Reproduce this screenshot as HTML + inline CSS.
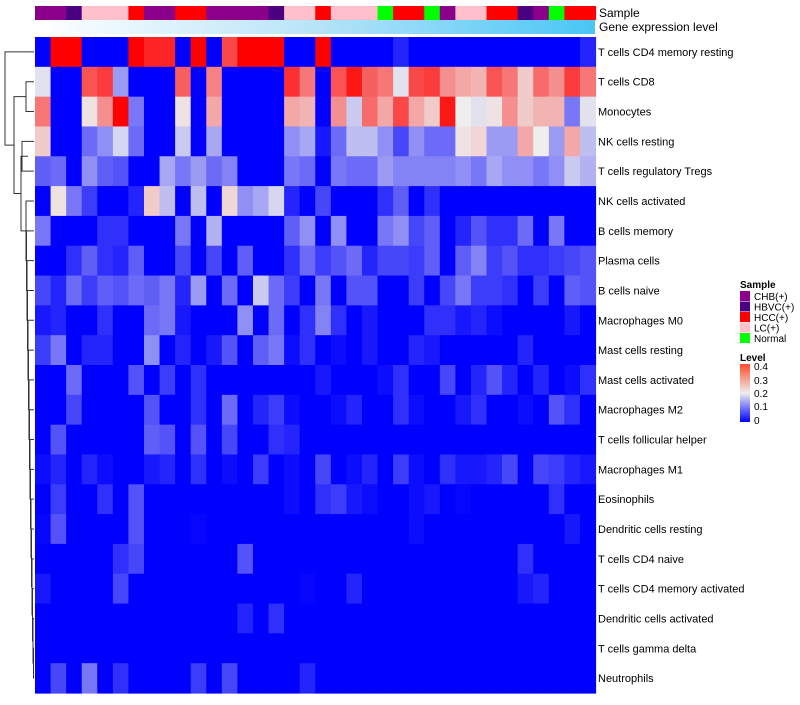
<!DOCTYPE html>
<html><head><meta charset="utf-8"><style>
html,body{margin:0;padding:0;background:#fff;}
svg text{font-family:"Liberation Sans",sans-serif;fill:#000;}
</style></head><body>
<svg id="chart" width="800" height="700" xmlns="http://www.w3.org/2000/svg">
<defs>
<linearGradient id="expr" x1="0" x2="1" y1="0" y2="0"><stop offset="0" stop-color="#ffffff"/><stop offset="0.5" stop-color="#b8e4f8"/><stop offset="1" stop-color="#48c6f6"/></linearGradient>
<linearGradient id="lvl" x1="0" x2="0" y1="1" y2="0"><stop offset="0" stop-color="#0000ff"/><stop offset="0.5" stop-color="#eeeeee"/><stop offset="1" stop-color="#ff4a2a"/></linearGradient>
</defs>
<g id="dendro" stroke="#333" stroke-width="1" fill="none"></g>
<g id="cells"></g>
<g id="ann"></g>
<rect x="35" y="20" width="560" height="14" fill="url(#expr)"/>
<text x="599" y="17" font-size="12">Sample</text>
<text x="599" y="31" font-size="12">Gene expression level</text>
<g id="rowlabels"></g>
<g id="legend">
<text x="740" y="288" font-size="10" font-weight="bold">Sample</text>
<text x="740" y="361" font-size="10" font-weight="bold">Level</text>
<rect x="740" y="364" width="10" height="58" fill="url(#lvl)"/>
<text x="754" y="370" font-size="10">0.4</text>
<text x="754" y="384" font-size="10">0.3</text>
<text x="754" y="397" font-size="10">0.2</text>
<text x="754" y="410" font-size="10">0.1</text>
<text x="754" y="424" font-size="10">0</text>
</g>
</svg>
<script>
const rowNames=["T cells CD4 memory resting","T cells CD8","Monocytes","NK cells resting","T cells regulatory  Tregs","NK cells activated","B cells memory","Plasma cells","B cells naive","Macrophages M0","Mast cells resting","Mast cells activated","Macrophages M2","T cells follicular helper","Macrophages M1","Eosinophils","Dendritic cells resting","T cells CD4 naive","T cells CD4 memory activated","Dendritic cells activated","T cells gamma delta","Neutrophils"];
const sampleGroups=["CHB(+)","CHB(+)","HBVC(+)","LC(+)","LC(+)","LC(+)","HCC(+)","CHB(+)","CHB(+)","HCC(+)","HCC(+)","CHB(+)","CHB(+)","CHB(+)","CHB(+)","HBVC(+)","LC(+)","LC(+)","HCC(+)","LC(+)","LC(+)","LC(+)","Normal","HCC(+)","HCC(+)","Normal","CHB(+)","LC(+)","LC(+)","HCC(+)","HCC(+)","HBVC(+)","CHB(+)","Normal","HCC(+)","HCC(+)"];
const groupNames=["CHB(+)","HBVC(+)","HCC(+)","LC(+)","Normal"];
const groupColors=["#8b008b","#4b0082","#ff0000","#ffc0cb","#00ff00"];
const levelTicks=[0.4,0.3,0.2,0.1,0];
const r0=[0,.4,.4,0,0,0,.4,.37,.37,0,.4,0,.34,.4,.4,.4,0,0,.4,0,0,0,0,.03,0,0,0,0,0,0,0,0,0,0,0,.03];
const r1=[.19,0,0,.33,.35,.13,0,0,0,.32,0,.29,0,0,0,0,.36,.3,0,.33,.38,.32,.3,.19,.34,.35,.28,.26,.25,.33,.3,.23,.31,.28,.35,.3];
const r2=[.3,0,0,.21,.28,.4,.1,0,0,.21,0,.26,0,0,0,0,.26,.25,0,.28,.17,.31,.26,.34,.26,.23,.38,.2,.19,.21,.28,.23,.25,.25,.1,.19];
const r3=[.23,0,0,.09,.12,.18,.09,0,0,.17,0,.14,0,0,0,0,.12,.14,.02,.09,.16,.16,.12,.06,.12,.09,.09,.21,.22,.13,.13,.26,.2,.13,.26,.16];
const r4=[.08,.09,0,.12,.08,.07,0,0,.14,.1,.13,.09,.11,0,0,0,.1,.09,0,.1,.09,.09,.13,.11,.11,.11,.11,.12,.1,.14,.12,.12,.1,.12,.17,.15];
const r5=[0,.21,.1,.05,0,0,.03,.23,.16,0,.16,0,.22,.12,.14,.18,.03,0,.06,0,0,0,.04,.08,0,.04,0,0,0,0,0,0,0,0,0,0];
const r6=[.1,0,0,0,.04,.04,0,0,0,.1,0,.15,0,0,0,0,.08,.12,0,.12,0,0,.1,.12,.06,.08,0,.03,.07,.04,.04,.09,0,.1,0,0];
const r7=[0,0,.04,.08,.04,.03,.08,0,0,.06,0,.06,0,.08,0,0,.04,.09,.05,.07,.09,.03,.06,.06,.05,.08,0,.08,.11,.05,.07,.04,.04,.05,.06,.07];
const r8=[.06,.03,.09,.05,.08,.07,.09,.08,.1,.03,.13,0,.09,0,.17,.09,.05,0,.1,0,.07,.07,0,0,.05,0,.06,.1,.05,.05,.04,0,.05,0,.08,.07];
const r9=[.02,.03,0,0,.04,0,0,.09,.1,.02,0,0,0,.12,0,.09,0,.04,.11,.04,0,.02,0,0,0,.04,.04,.02,.03,.01,0,0,0,0,.02,0];
const r10=[.05,.1,0,.03,.03,0,0,.12,0,.03,0,.02,.07,0,.08,.1,.01,.04,0,.01,0,.02,0,0,.03,.02,0,0,0,0,0,.03,0,0,0,0];
const r11=[0,0,.09,0,0,0,.07,0,.05,0,.04,0,0,0,0,0,0,0,.02,0,0,0,.01,.04,0,0,.06,0,.03,.07,.03,0,.03,0,.01,.04];
const r12=[0,0,.06,0,0,0,0,.07,0,0,.04,0,.09,0,.03,.05,.01,0,0,.01,.03,0,0,.04,.01,0,0,.02,.04,0,0,.01,0,.07,.04,0];
const r13=[0,.07,0,0,0,0,0,.08,.07,0,.07,0,.06,0,0,.04,.03,0,0,0,0,0,0,0,0,0,0,0,0,0,0,0,0,0,0,0];
const r14=[.01,.03,0,.03,.01,0,0,.02,.03,0,.04,0,.01,0,.05,0,.01,0,.06,0,.01,.03,0,.05,.01,0,.04,.02,.02,.03,.06,0,.06,.05,.03,.02];
const r15=[0,.05,0,0,.04,0,.07,0,0,0,0,0,0,0,0,0,.01,0,.04,.05,.02,.01,0,0,.01,.02,0,.005,0,0,0,0,0,.04,0,0];
const r16=[.005,.07,0,0,0,0,.07,0,0,0,.005,0,0,0,0,0,0,0,0,0,0,0,0,0,.01,0,0,0,0,0,0,0,0,0,.02,0];
const r17=[0,0,0,0,0,.04,.06,0,0,0,0,0,0,.07,0,0,0,0,0,0,0,0,0,0,0,0,0,0,0,0,0,.04,0,0,0,0];
const r18=[.02,0,0,0,0,.06,0,0,0,0,0,0,0,0,0,0,0,.005,0,0,.03,0,0,0,0,0,0,0,0,0,0,.02,.03,0,0,0];
const r19=[0,0,0,0,0,0,0,0,0,0,0,0,0,.03,0,.04,0,0,0,0,0,0,0,0,0,0,0,0,0,0,0,0,0,0,0,0];
const r20=[0,0,0,0,0,0,0,0,0,0,0,0,0,0,0,0,0,0,0,0,0,0,0,0,0,0,0,0,0,0,0,0,0,0,0,0];
const r21=[0,.06,0,.1,0,.04,0,0,0,0,.05,0,.06,0,0,0,0,.03,0,0,0,0,0,0,0,0,0,0,0,0,0,0,0,0,0,0];
const values=[r0,r1,r2,r3,r4,r5,r6,r7,r8,r9,r10,r11,r12,r13,r14,r15,r16,r17,r18,r19,r20,r21];

const NS="http://www.w3.org/2000/svg";
const X0=35,X1=595.5,Y0=37,Y1=693;
const nCol=sampleGroups.length,nRow=rowNames.length;
const cw=(X1-X0)/nCol,rh=(Y1-Y0)/nRow;
function xPos(i){return X0+i*cw;}
function yPos(j){return Y0+j*rh;}
function lerp(a,b,t){return Math.round(a+(b-a)*t);}
function color(v){
  v=Math.max(0,Math.min(0.4,v));
  if(v<=0.2){const t=v/0.2;return `rgb(${lerp(0,238,t)},${lerp(0,238,t)},${lerp(255,238,t)})`;}
  const t=(v-0.2)/0.2;return `rgb(${lerp(238,255,t)},${lerp(238,0,t)},${lerp(238,0,t)})`;
}
const cells=document.getElementById('cells');
values.forEach((row,j)=>{row.forEach((v,i)=>{
  const r=document.createElementNS(NS,'rect');
  r.setAttribute('x',xPos(i));r.setAttribute('y',yPos(j));
  r.setAttribute('width',cw+0.6);r.setAttribute('height',rh+0.6);
  r.setAttribute('fill',color(v));
  
  
  cells.appendChild(r);
});});
const ann=document.getElementById('ann');
sampleGroups.forEach((g,i)=>{
  const r=document.createElementNS(NS,'rect');
  r.setAttribute('x',xPos(i));r.setAttribute('y',6);
  r.setAttribute('width',cw+0.6);r.setAttribute('height',14);
  r.setAttribute('fill',groupColors[groupNames.indexOf(g)]);
  
  
  ann.appendChild(r);
});
const rl=document.getElementById('rowlabels');
rowNames.forEach((n,j)=>{
  const t=document.createElementNS(NS,'text');
  t.setAttribute('x',598);t.setAttribute('y',yPos(j)+rh/2+4);
  t.setAttribute('font-size','11');t.textContent=n;
  
  
  rl.appendChild(t);
});
const lg=document.getElementById('legend');
groupNames.forEach((g,k)=>{
  const r=document.createElementNS(NS,'rect');
  r.setAttribute('x',740);r.setAttribute('y',291+k*10.5);r.setAttribute('width',10);r.setAttribute('height',10);
  r.setAttribute('fill',groupColors[k]);
  
  
  lg.appendChild(r);
  const t=document.createElementNS(NS,'text');
  t.setAttribute('x',754);t.setAttribute('y',300+k*10.5);t.setAttribute('font-size','10');t.textContent=g;
  
  
  lg.appendChild(t);
});
// dendrogram
const dg=document.getElementById('dendro');
function yc(j){return yPos(j)+rh/2;}
function seg(d){const p=document.createElementNS(NS,'path');p.setAttribute('d',d);
  
  
  dg.appendChild(p);}
function merge(x,ya,xa,yb,xb){seg(`M${xa},${ya}H${x}V${yb}H${xb}`);return (ya+yb)/2;}
// tail cluster rows 5..21, chained from bottom
let y=yc(21),x=34;
for(let j=20;j>=5;j--){const nx=Math.max(24,34-(21-j)*0.5);y=merge(nx,yc(j),34,y,x);x=nx;}
const yb=merge(22,yc(3),28,yc(4),28);
seg(`M28,${yc(3)}H34M28,${yc(4)}H34`);
const yRest=merge(21,yb,28,y,x);
const y12=merge(26,yc(1),34,yc(2),34);
const yAll=merge(14,y12,26,yRest,21);
merge(5,yc(0),34,yAll,14);
</script>
</body></html>
